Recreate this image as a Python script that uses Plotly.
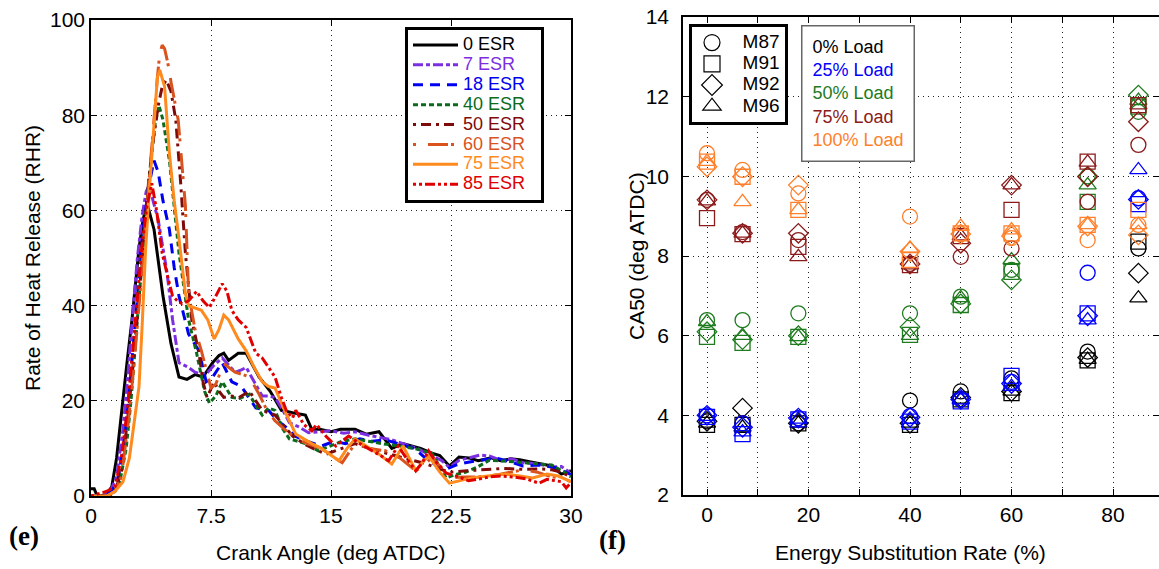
import plotly.graph_objects as go

# ---------------- Left panel (e): RHR vs crank angle ----------------
RHR_0ESR = [(0,1.5),(0.2,1.5),(0.35,0.3),(0.5,0),(1.0,0.3),(1.3,2),(1.6,8),(1.94,19),(2.25,28),(2.56,37),
            (2.8,45),(3.0,52),(3.25,58),(3.5,61.5),(3.94,56),(4.2,49),(4.5,42),(5.0,32),(5.5,25),(6.0,24.5),
            (6.5,25.5),(7.0,25),(7.3,26.5),(7.6,28),(8.0,29.5),(8.3,30),(8.6,28.5),(8.8,29),(9.2,30),(9.7,30),
            (10.1,27.5),(10.5,25),(11.2,22),(11.9,18),(12.6,17.5),(13.4,17),(13.8,14),(14.3,14),(15.0,13.5),(15.6,14),
            (16.5,14),(17.2,13),(18.0,13.5),(18.8,10),(19.5,11),(20.0,10.5),(20.6,10),(21.3,9),(21.8,8.5),(22.4,6.3),
            (23.0,8.2),(23.6,8),(24.2,7.4),(25.0,8),(25.6,7.4),(26.2,7.8),(26.8,7.6),(27.4,7.2),(28.2,6.7),(28.8,6.3),
            (29.4,4.6),(30,5.3)]
RHR_7ESR = [(0,0),(0.8,0),(1.2,1),(1.6,4),(2.0,14),(2.3,25),(2.6,38),(2.9,50),(3.2,59),(3.45,64),
            (3.6,65),(3.8,63),(4.2,58),(4.75,47),(5.1,37),(5.5,28),(6.1,27),(6.5,26),(6.9,25.6),(7.3,26),
            (7.7,27.5),(8.2,29),(8.6,27.5),(9.0,26),(9.4,26.5),(9.7,27),(10.2,24),(10.7,21),(11.1,21),(11.5,20.7),
            (12.0,18),(12.4,15.4),(13.0,14.5),(13.6,13.3),(14.3,13.5),(15.0,13.7),(15.8,13.2),(16.5,13.5),(17.3,12.8),(18.0,12.4),
            (18.8,11.8),(19.5,11),(20.4,10),(21.3,8.4),(21.9,7.5),(22.4,6),(23.0,7.5),(23.6,8),(24.3,8.6),(24.9,8.4),
            (25.7,7.4),(26.3,7.8),(27.0,7),(27.8,6.8),(28.8,6.1),(29.4,6.2),(29.9,5)]
RHR_18ESR = [(0,0),(0.9,0),(1.3,1),(1.7,3.5),(2.1,12),(2.4,22),(2.7,34),(3.0,46),(3.3,57),(3.6,65),
             (3.94,70.5),(4.2,68),(4.5,62),(4.9,56),(5.2,48),(5.5,42),(6.1,34),(6.75,30.5),(7.2,24),(7.6,25),
             (8.2,28),(8.8,24),(9.4,23),(9.8,21),(10.3,18.5),(11.1,18),(11.6,16),(12.2,14.4),(12.8,12.5),(13.5,11.5),
             (14.4,10.5),(15.2,11.5),(15.9,11),(16.8,12),(17.6,11.5),(18.4,11.8),(19.2,11),(20.2,10),(21.1,7.4),(21.6,6.5),
             (22.2,5.6),(22.8,6.5),(23.4,7),(24.3,7.5),(25.3,8),(26.2,7.2),(27.0,6.3),(28.0,6.5),(29.0,6),(30,4.5)]
RHR_40ESR = [(0,0),(1.0,0),(1.4,0.5),(1.8,3),(2.2,10),(2.5,20),(2.8,33),(3.1,46),(3.4,58),(3.7,69),
             (4.0,78),(4.25,82),(4.5,79),(4.9,70.5),(5.2,60),(5.5,51),(6.1,37),(6.6,30),(7.1,22),(7.4,19.5),
             (7.8,21),(8.2,24),(8.8,20.7),(9.3,20.5),(9.9,21.4),(10.3,19),(10.7,17),(11.1,18.5),(11.5,18),(12.0,14),
             (12.4,12),(13.4,11),(14.2,9.5),(15.0,10.5),(15.7,11.5),(16.5,12),(17.3,11.5),(18.2,11),(19.2,10.5),(20.2,10),
             (21.3,9),(21.8,6),(22.2,3.8),(22.8,4.5),(23.4,5),(24.1,6),(24.9,7.5),(26.0,7.3),(27.0,7),(28.0,6.8),
             (28.8,6.5),(29.6,5),(30,4)]
RHR_50ESR = [(0,0),(1.0,0),(1.5,1),(1.9,5),(2.35,18),(2.7,30),(3.0,42),(3.3,55),(3.6,66),(3.9,75),
             (4.2,82),(4.45,86),(4.7,87.4),(5.0,85),(5.3,79),(5.6,66),(5.9,51),(6.3,37),(6.75,30),(7.0,24),
             (7.25,20.7),(7.7,24),(8.0,22),(8.3,20.7),(8.8,21),(9.25,20.7),(9.9,22),(10.3,20),(10.7,18),(11.1,17.5),
             (11.5,17),(12.0,15),(12.6,12.6),(13.3,11),(14.0,9.8),(14.7,8.8),(15.5,9.8),(16.5,11),(17.4,10),(18.4,9),
             (19.5,8),(20.7,7),(21.5,6),(22.4,5),(23.5,5.3),(24.7,5.6),(25.8,5.8),(27.0,5.6),(28.0,5.7),(28.8,5.5),
             (29.4,5),(30,4)]
RHR_60ESR = [(0,0),(1.0,0),(1.5,1),(1.9,4),(2.35,16),(2.7,28),(3.0,40),(3.3,53),(3.6,66),(3.9,78),
             (4.15,88),(4.3,93),(4.45,94.7),(4.6,94),(4.8,91),(5.0,87),(5.45,79),(5.9,61),(6.1,42.5),(6.5,35),
             (6.9,30.5),(7.5,22.7),(7.8,23.5),(8.3,27.8),(8.6,27),(9.0,26),(9.5,25.5),(9.9,25),(10.5,21.4),(11.0,18),
             (11.5,15.8),(12.1,14),(12.8,12.2),(13.5,11),(14.4,10),(15.0,8.5),(15.7,7),(16.5,11),(17.4,10),(18.4,9.5),
             (19.3,8),(20.3,5.3),(20.8,6.5),(21.3,8),(21.9,6),(22.4,3.8),(23.3,4),(24.2,4),(25.5,4.5),(27.0,5.5),
             (27.9,5),(28.8,4),(29.4,3.8),(30,3)]
RHR_75ESR = [(0,0),(1.0,0),(1.5,1),(2.0,3),(2.4,8),(2.7,15),(3.0,23),(3.2,36),(3.4,51),(3.6,62),
             (3.8,72),(4.0,82),(4.15,88),(4.3,89.5),(4.6,86),(4.9,72),(5.2,62),(5.5,54),(5.9,42.5),(6.1,40),
             (6.5,39.5),(6.9,39),(7.3,37),(7.7,33),(8.0,35),(8.3,38),(8.6,37),(9.2,33),(9.7,30.5),(10.2,27),
             (10.7,24),(11.1,23),(11.5,22.7),(12.2,17.2),(12.8,13),(13.2,12.2),(13.8,11),(14.4,10),(15.0,8.5),(15.5,7.4),
             (16.0,10),(16.5,12),(17.2,10.5),(18.0,8.8),(18.8,6.7),(19.5,10.5),(20.3,5.3),(20.7,7),(21.1,8.4),(21.8,5),
             (22.4,2.7),(23.1,3.2),(23.8,3.8),(24.8,4.2),(25.9,4.6),(26.8,4.2),(27.6,3.8),(28.5,4.6),(29.2,4.2),(30,3)]
RHR_85ESR = [(0,0),(0.5,0.5),(1.0,1),(1.5,2),(1.9,8),(2.3,19),(2.6,30),(2.9,42),(3.2,53),(3.5,61),
             (3.8,65.7),(4.1,60),(4.45,51),(4.8,46),(5.1,42),(5.4,41),(5.7,40.4),(6.1,41),(6.6,43),(7.0,41),
             (7.4,39.6),(7.8,42),(8.2,44.6),(8.5,43),(8.8,39),(9.2,37),(9.7,35.4),(10.3,30),(10.7,29),(11.1,27),
             (11.5,25),(11.9,20.7),(12.2,18),(12.6,16.4),(12.8,18),(13.3,15),(13.8,13.7),(14.1,15),(14.7,12.5),(15.3,10.5),
             (16.1,12.6),(16.8,11),(17.6,9.5),(18.1,8.5),(18.6,7.4),(19.2,10.5),(19.7,8),(20.3,5.3),(20.7,7),(21.1,9.5),
             (21.6,7),(22.2,4.8),(23.0,4),(23.6,3.2),(24.3,3.6),(24.9,4),(25.6,4.2),(26.4,4),(27.2,3.6),(28.0,2.7),
             (28.5,3.5),(29.0,3.2),(29.4,3),(29.7,1.7),(30,2.8)]

ESR_LABELS = ["0 ESR", "7 ESR", "18 ESR", "40 ESR", "50 ESR", "60 ESR", "75 ESR", "85 ESR"]
RHR_SERIES = [RHR_0ESR, RHR_7ESR, RHR_18ESR, RHR_40ESR, RHR_50ESR, RHR_60ESR, RHR_75ESR, RHR_85ESR]
LINE_COLORS = ["#000000", "#7B2FE0", "#0000F0", "#0B6B1B", "#7F0A0A", "#D9531E", "#FF8A1E", "#E00000"]
LINE_DASHES = ["solid", "10px,3px,4px,3px", "10px,7px", "5px,3px", "3px,5px,10px,5px",
               "3px,12px,20px,3px", "solid", "3px,3px,3px,3px,10px,3px"]

X_TICKS_E = [0, 7.5, 15, 22.5, 30]

# ---------------- Right panel (f): CA50 vs ESR ----------------
ESR = [0, 7, 18, 40, 50, 60, 75, 85]
FUELS = ["M87", "M91", "M92", "M96"]
SYMBOLS = ["circle-open", "square-open", "diamond-open", "triangle-up-open"]
LOADS = ["0% Load", "25% Load", "50% Load", "75% Load", "100% Load"]
LOAD_COLORS = ["#000000", "#0000FF", "#1E7B1E", "#8B1A1A", "#FF7F2A"]

CA50_LOAD0 = {"M87": [3.85, 3.8, 3.8, 4.37, 4.6, 4.93, 5.6, 8.19],
              "M91": [3.76, 3.76, 3.8, 3.76, 4.4, 4.56, 5.38, 8.36],
              "M92": [3.85, 4.18, 3.8, 3.8, 4.45, 4.6, 5.45, 7.57],
              "M96": [3.8, 3.7, 3.8, 3.8, 4.4, 4.6, 5.4, 6.94]}
CA50_LOAD25 = {"M87": [4.0, 3.8, 3.93, 3.98, 4.4, 4.84, 7.58, 9.45],
               "M91": [3.96, 3.53, 3.9, 3.84, 4.35, 4.99, 6.56, 9.3],
               "M92": [4.0, 3.7, 3.93, 3.95, 4.4, 4.8, 6.5, 9.42],
               "M96": [3.97, 3.58, 3.9, 3.9, 4.38, 4.72, 6.39, 10.16]}
CA50_LOAD50 = {"M87": [6.39, 6.39, 6.56, 6.56, 6.98, 7.65, 10.0, 11.62],
               "M91": [5.97, 5.82, 5.97, 6.02, 6.77, 7.6, 9.36, 11.75],
               "M92": [6.1, 5.9, 6.0, 6.22, 6.8, 7.4, 10.0, 12.04],
               "M96": [6.35, 6.0, 5.97, 6.0, 6.95, 7.9, 9.78, 11.9]}
CA50_LOAD75 = {"M87": [9.41, 8.6, 8.4, 7.8, 7.98, 8.19, 9.36, 10.79],
               "M91": [8.95, 8.55, 8.23, 7.77, 8.5, 9.16, 10.37, 11.79],
               "M92": [9.41, 8.57, 8.57, 7.8, 8.32, 9.78, 9.99, 11.37],
               "M96": [9.38, 8.57, 7.98, 7.77, 8.5, 9.78, 10.35, 11.79]}
CA50_LOAD100 = {"M87": [10.58, 10.16, 9.57, 8.99, 8.55, 8.45, 8.4, 8.78],
                "M91": [10.37, 9.99, 9.16, 7.9, 8.57, 8.57, 8.78, 9.16],
                "M92": [10.24, 9.99, 9.78, 8.11, 8.55, 8.5, 8.75, 8.53],
                "M96": [10.37, 9.36, 9.16, 8.19, 8.74, 8.65, 8.78, 8.78]}
CA50_BY_LOAD = [CA50_LOAD0, CA50_LOAD25, CA50_LOAD50, CA50_LOAD75, CA50_LOAD100]

X_TICKS_F = [0, 20, 40, 60, 80]
Y_TICKS_F = [2, 4, 6, 8, 10, 12, 14]

W, H = 1159, 569
FONT = "Liberation Sans, Arial, sans-serif"

fig = go.Figure()

for name, series, color, dash in zip(ESR_LABELS, RHR_SERIES, LINE_COLORS, LINE_DASHES):
    xs = [p[0] for p in series]
    ys = [p[1] for p in series]
    fig.add_trace(go.Scatter(
        x=xs, y=ys, mode="lines", xaxis="x", yaxis="y",
        name=f"<span style='color:{color};font-size:18px'>{name}</span>&nbsp;&nbsp;&nbsp;",
        line=dict(color=color, width=3, dash=dash),
        legend="legend"))

for load, color, table in zip(LOADS, LOAD_COLORS, CA50_BY_LOAD):
    for fuel, sym in zip(FUELS, SYMBOLS):
        fig.add_trace(go.Scatter(
            x=ESR, y=table[fuel], mode="markers", xaxis="x2", yaxis="y2",
            marker=dict(symbol=sym, size=15, color=color, line=dict(width=1.3, color=color)),
            showlegend=False, name=f"{fuel} {load}"))

for fuel, sym in zip(FUELS, SYMBOLS):
    fig.add_trace(go.Scatter(
        x=[None], y=[None], mode="markers", xaxis="x2", yaxis="y2",
        marker=dict(symbol=sym, size=16, color="black", line=dict(width=1.2, color="black")),
        name=f"<span style='font-size:19px'>&nbsp;&nbsp;{fuel}</span>", legend="legend2"))

grid = dict(showgrid=True, gridcolor="#222", griddash="1px,4px", gridwidth=1.2,
            showline=True, linecolor="black", linewidth=1.5, mirror="ticks",
            ticks="inside", ticklen=6, tickcolor="black", zeroline=False, automargin=False,
            tickfont=dict(family=FONT, size=21, color="black"))

fig.update_layout(
    width=W, height=H, margin=dict(l=0, r=0, t=0, b=0, pad=0, autoexpand=False),
    paper_bgcolor="white", plot_bgcolor="white",
    font=dict(family=FONT, color="black"),
    xaxis=dict(domain=[91 / W, 571 / W], range=[0, 30], tickvals=X_TICKS_E,
               ticktext=[str(v) for v in X_TICKS_E], anchor="y", **grid),
    yaxis=dict(domain=[1 - 496 / H, 1 - 20 / H], range=[0, 100], dtick=20, anchor="x", **grid),
    xaxis2=dict(domain=[683 / W, 1.0], range=[-4.73, 89.06], tickvals=X_TICKS_F, anchor="y2",
                minor=dict(dtick=10, tick0=0, showgrid=True, gridcolor="#222", griddash="1px,4px",
                           gridwidth=1.2, ticks="inside", ticklen=6, tickcolor="black"),
                **grid),
    yaxis2=dict(domain=[1 - 495 / H, 1 - 17 / H], range=[2, 14], tickvals=Y_TICKS_F, anchor="x2",
                ticklabelstandoff=8, **grid),
    legend=dict(x=405 / W, y=1 - 27 / H, xanchor="left", yanchor="top",
                bgcolor="white", bordercolor="black", borderwidth=3, itemwidth=45,
                font=dict(family=FONT, size=13), tracegroupgap=0, traceorder="normal"),
    legend2=dict(x=689 / W, y=1 - 24 / H, xanchor="left", yanchor="top",
                 bgcolor="white", bordercolor="black", borderwidth=3,
                 font=dict(family=FONT, size=14, color="black"), tracegroupgap=0),
)

load_text = "<br>".join(f"<span style='color:{c}'>{l}</span>" for l, c in zip(LOADS, LOAD_COLORS))
ann = [
    dict(text=load_text, x=801 / W, y=1 - 25 / H, xanchor="left", yanchor="top", align="left",
         font=dict(family=FONT, size=18), bgcolor="white", bordercolor="#666", borderwidth=1.5, borderpad=10),
    dict(text="Crank Angle (deg ATDC)", x=331 / W, y=1 - 552 / H, font=dict(family=FONT, size=21)),
    dict(text="Rate of Heat Release (RHR)", x=32 / W, y=1 - 258 / H, textangle=-90, font=dict(family=FONT, size=21)),
    dict(text="Energy Substitution Rate (%)", x=910 / W, y=1 - 552 / H, font=dict(family=FONT, size=21)),
    dict(text="CA50 (deg ATDC)", x=637 / W, y=1 - 256 / H, textangle=-90, font=dict(family=FONT, size=21)),
    dict(text="<b>(e)</b>", x=24 / W, y=1 - 536 / H, font=dict(family="Liberation Serif, Times New Roman, serif", size=27)),
    dict(text="<b>(f)</b>", x=612 / W, y=1 - 540 / H, font=dict(family="Liberation Serif, Times New Roman, serif", size=27)),
]
for a in ann:
    a.setdefault("xanchor", "center")
    a.setdefault("yanchor", "middle")
    a.update(xref="paper", yref="paper", showarrow=False)
fig.update_layout(annotations=ann)

fig.write_html("out.html")
